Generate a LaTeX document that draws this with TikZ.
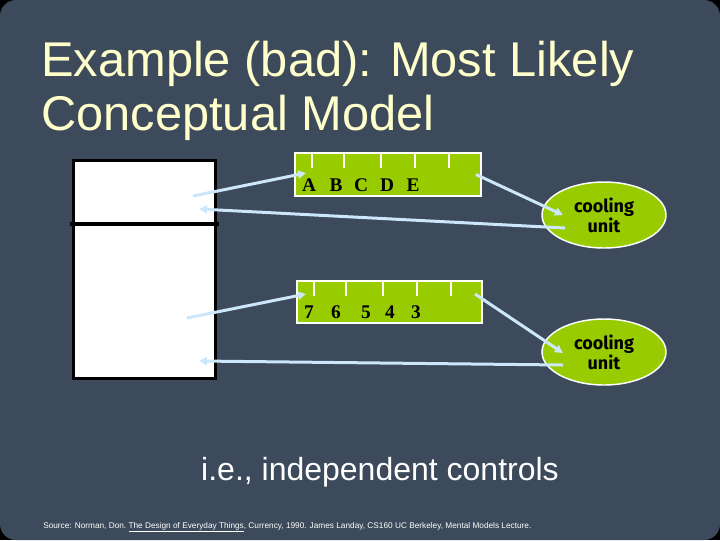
\documentclass[tikz,border=0pt]{standalone}
\usepackage{fontspec}
\setmainfont{Liberation Sans}
\newfontfamily\unitfont{Fira Sans}
\newfontfamily\dialfont{Liberation Serif}
\usetikzlibrary{arrows.meta, shapes.geometric, calc}

\definecolor{slidebg}{HTML}{3C4A5C}
\definecolor{titlecol}{HTML}{FFFFCC}
\definecolor{dialgreen}{HTML}{99CC00}
\definecolor{wireblue}{HTML}{CCE6FA}

\begin{document}
\begin{tikzpicture}[
    x=0.75pt, y=-0.75pt,
    panel/.style={rectangle, draw=white, line width=1.5pt, fill=dialgreen, inner sep=0pt},
    coolbox/.style={ellipse, draw=white, line width=1.1pt, fill=dialgreen,
      minimum width=93pt, minimum height=49.5pt, inner sep=0pt, align=center,
      font=\unitfont\bfseries\fontsize{13.5}{15}\selectfont},
    dial/.style={anchor=base, inner sep=0pt, font=\dialfont\bfseries\fontsize{14.5}{16}\selectfont},
    notch/.style={white, line width=1.2pt},
    wire/.style={wireblue, line width=2.25pt, -{Triangle[length=6pt, width=6pt]}}
  ]
  % slide background
  \fill[black] (0,0) rectangle (720,540);
  \fill[slidebg, rounded corners=12pt] (0,0) rectangle (720,540);
  \useasboundingbox (0,0) rectangle (720,540);

  \node[anchor=north west, align=left, inner sep=0pt, text=titlecol,
    font=\fontsize{36.6}{40.5}\selectfont] (title) at (41,41)
    {Example (bad): Most Likely\\Conceptual Model};

  % the fridge
  \node[draw=black, line width=2.25pt, fill=white, minimum width=106.5pt,
    minimum height=163.5pt, inner sep=0pt] (fridge) at (144.5,269.5) {};
  \coordinate (door) at (144.5,224);
  \draw[line width=3pt] ($(fridge.west |- door)+(-2,0)$) -- ($(fridge.east |- door)+(2,0)$);

  % the two dials
  \node[panel, minimum width=139.5pt, minimum height=32.25pt] (letters) at (388,174.5) {};
  \node[panel, minimum width=138.75pt, minimum height=31.5pt] (digits) at (389.5,302) {};
  \foreach \x in {18,50,87,121,155} {
    \draw[notch] ($(letters.north west)+(\x,0)$) -- ++(0,16);
    \draw[notch] ($(digits.north west)+(\x,0)$) -- ++(0,16);
  }
  \foreach \c/\x in {A/15,B/42,C/67,D/93,E/119}
    \node[dial] (l\c) at ($(letters.south west)+(\x,-6)$) {\c};
  \foreach \d/\x in {7/13,6/40,5/70,4/94,3/120}
    \node[dial] (d\d) at ($(digits.south west)+(\x,-6)$) {\d};

  \node[coolbox] (cool1) at (604,215) {cooling\\unit};
  \node[coolbox] (cool2) at (604,352) {cooling\\unit};

  \draw[wire] ($(fridge.north east)+(-24,37)$) -- ($(letters.west)+(12,-1.5)$);
  \draw[wire] ($(letters.east)+(-6,0)$) -- ($(cool1)+(-41,0)$);
  \draw[wire] ($(cool1)+(-39,13)$) -- ($(fridge.north east)+(-18,50)$);
  \draw[wire] ($(fridge.south east)+(-30,-62)$) -- ($(digits.west)+(10,-8)$);
  \draw[wire] ($(digits.east)+(-8,-8)$) -- ($(cool2)+(-41,1)$);
  \draw[wire] ($(cool2)+(-41,13)$) -- ($(fridge.south east)+(-18,-19)$);

  \node[anchor=base, inner sep=0pt, text=white, font=\fontsize{24}{28}\selectfont]
    (caption) at (380,480) {i.e., independent controls};
  \node[anchor=base west, inner sep=0pt, text=white, font=\fontsize{6.2}{7}\selectfont]
    (source) at (43,528) {Source: Norman, Don.\ \underline{The Design of Everyday Things},
    Currency, 1990. James Landay, CS160 UC Berkeley, Mental Models Lecture.};
\end{tikzpicture}
\end{document}
